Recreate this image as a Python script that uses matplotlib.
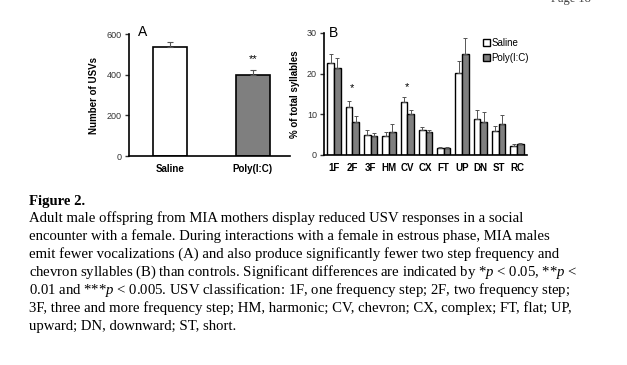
import numpy as np
import matplotlib
matplotlib.use('Agg')
import matplotlib.pyplot as plt

matplotlib.rc('font', family='Liberation Sans', size=7)
matplotlib.rcParams['mathtext.fontset'] = 'custom'
matplotlib.rcParams['mathtext.it'] = 'Liberation Serif:italic'
matplotlib.rcParams['mathtext.rm'] = 'Liberation Serif'

# panel A
groups_a = ['Saline', 'Poly(I:C)']
usv_mean = [537, 398]
usv_err = [24, 25]

# panel B
syll = ['1F', '2F', '3F', 'HM', 'CV', 'CX', 'FT', 'UP', 'DN', 'ST', 'RC']
saline_pct = [22.7, 11.7, 5.0, 4.6, 13.0, 6.1, 1.6, 20.2, 8.8, 5.9, 2.2]
saline_err = [2.1, 1.7, 1.1, 1.1, 1.3, 0.7, 0.3, 2.8, 2.2, 1.3, 0.5]
poly_pct = [21.3, 8.2, 4.7, 5.6, 10.0, 5.6, 1.6, 24.9, 8.0, 7.6, 2.7]
poly_err = [2.6, 1.5, 0.8, 2.1, 1.1, 0.5, 0.3, 3.9, 2.5, 2.3, 0.3]
stars_b = {'2F': 16.4, 'CV': 16.8}

caption_title = 'Figure 2.'
caption_lines = [
    'Adult male offspring from MIA mothers display reduced USV responses in a social',
    'encounter with a female. During interactions with a female in estrous phase, MIA males',
    'emit fewer vocalizations (A) and also produce significantly fewer two step frequency and',
    'chevron syllables (B) than controls. Significant differences are indicated by *$p$ < 0.05, **$p$ <',
    '0.01 and ***$p$ < 0.005. USV classification: 1F, one frequency step; 2F, two frequency step;',
    '3F, three and more frequency step; HM, harmonic; CV, chevron; CX, complex; FT, flat; UP,',
    'upward; DN, downward; ST, short.',
]

W, H = 627, 365
fig = plt.figure(figsize=(W / 100, H / 100), dpi=100)


def box(l, t, r, b):
    return [l / W, 1 - b / H, (r - l) / W, (b - t) / H]


def style(ax):
    ax.spines['top'].set_visible(False)
    ax.spines['right'].set_visible(False)
    ax.spines['left'].set_linewidth(1.2)
    ax.spines['bottom'].set_linewidth(1.2)
    ax.tick_params(axis='y', length=3, width=1, pad=2, labelsize=6.5, colors='#333333')
    ax.tick_params(axis='x', length=0, pad=6)
    for lab in ax.get_xticklabels():
        lab.set_fontweight('bold')
        lab.set_fontsize(7)


# ---- A
axA = fig.add_axes(box(129, 34, 290, 156))
xa = np.arange(len(groups_a))
axA.bar(xa, usv_mean, width=0.41, color=['white', '#7f7f7f'], edgecolor='black', linewidth=1.2,
        yerr=[[0, 0], usv_err], error_kw=dict(ecolor='#555555', elinewidth=0.8, capsize=2, capthick=0.8))
axA.set_xlim(-0.5, 1.45)
axA.set_ylim(0, 600)
axA.set_yticks([0, 200, 400, 600])
axA.set_xticks(xa)
axA.set_xticklabels(groups_a)
axA.set_ylabel('Number of USVs', fontsize=7, fontweight='bold', labelpad=6)
style(axA)
axA.text(1, 450, '**', ha='center', va='bottom', fontsize=8)
fig.text(143 / W, 1 - 32 / H, 'A', fontsize=10, ha='center', va='center')

# ---- B
axB = fig.add_axes(box(324, 33, 527, 155))
xb = np.arange(len(syll))
bw = 0.36
axB.bar(xb - bw / 2, saline_pct, width=bw, color='white', edgecolor='black', linewidth=1.0,
        yerr=[np.zeros(len(syll)), saline_err],
        error_kw=dict(ecolor='#555555', elinewidth=0.7, capsize=1.5, capthick=0.7), label='Saline')
axB.bar(xb + bw / 2, poly_pct, width=bw, color='#7f7f7f', edgecolor='black', linewidth=1.0,
        yerr=[np.zeros(len(syll)), poly_err],
        error_kw=dict(ecolor='#555555', elinewidth=0.7, capsize=1.5, capthick=0.7), label='Poly(I:C)')
axB.set_xlim(-0.55, 10.55)
axB.set_ylim(0, 30)
axB.set_yticks([0, 10, 20, 30])
axB.set_xticks(xb)
axB.set_xticklabels(syll)
axB.set_ylabel('% of total syllables', fontsize=7, fontweight='bold', labelpad=5)
style(axB)
for k, v in stars_b.items():
    axB.text(syll.index(k), v, '*', ha='center', va='center', fontsize=8)
axB.legend(loc='upper left', bbox_to_anchor=(0.74, 1.03), frameon=False, fontsize=7,
           handlelength=0.7, handleheight=0.7, handletextpad=0.2, labelspacing=0.5)
fig.text(333 / W, 1 - 33 / H, 'B', fontsize=10, ha='center', va='center')

# ---- caption
left = 29 / W
fig.text(left, 1 - 205 / H, caption_title, family='Liberation Serif', fontsize=10.6,
         fontweight='bold', va='baseline', ha='left')
for i, line in enumerate(caption_lines):
    fig.text(left, 1 - (222 + 18.05 * i) / H, line, family='Liberation Serif', fontsize=10.6,
             va='baseline', ha='left')
# page header, cut off at the top edge as in the scan
fig.text(571 / W, 1 - 2 / H, 'Page 18', family='Liberation Serif', fontsize=9,
         va='baseline', ha='center', color='#444444')

fig.savefig('out.png', dpi=100)
